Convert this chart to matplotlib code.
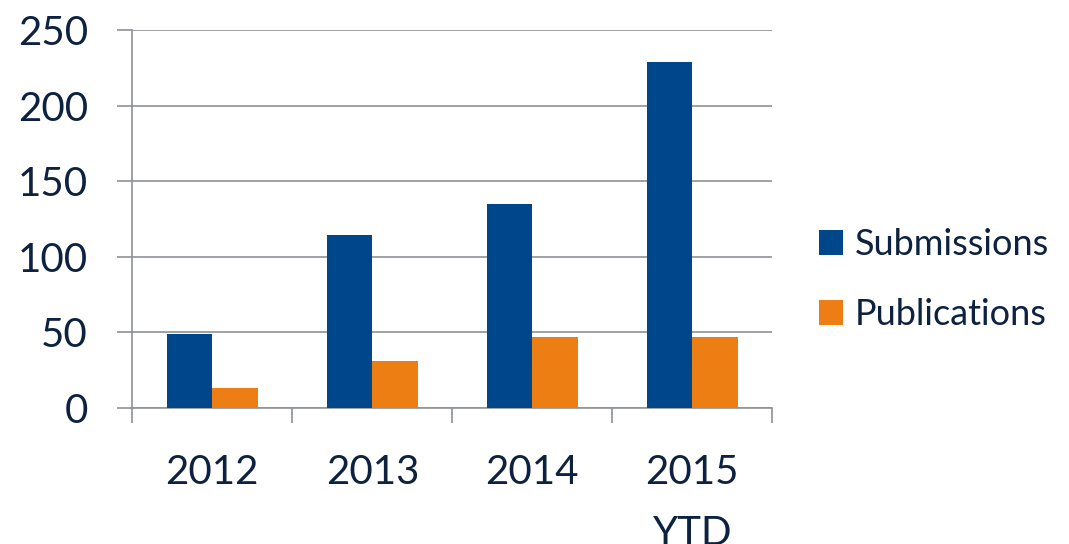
import numpy as np
import matplotlib.pyplot as plt

years = ['2012', '2013', '2014', '2015\nYTD']
submissions = [49, 114, 135, 229]
publications = [13, 31, 47, 47]

blue = '#00468B'
orange = '#EC7E14'
grey = '#8E9196'
txt = '#0D2240'

plt.rcParams['font.family'] = ['Lato', 'DejaVu Sans']

fig = plt.figure(figsize=(10.69, 5.44), dpi=100)
ax = fig.add_axes([0.1238, 0.2506, 0.5987, 0.6943])

x = np.arange(len(years))
w = 0.284
ax.bar(x - w/2, submissions, w, color=blue, label='Submissions', zorder=3)
ax.bar(x + w/2, publications, w, color=orange, label='Publications', zorder=3)

ax.set_xlim(-0.5, len(years) - 0.5)
ax.set_ylim(0, 250)
ax.set_yticks(range(0, 251, 50))
ax.yaxis.grid(True, color=grey, linewidth=1.2)
ax.set_axisbelow(True)

# labels under the groups, ticks on the group boundaries
ax.set_xticks(x)
ax.set_xticklabels(years, fontsize=29, color=txt, linespacing=1.8)
ax.set_xticks(np.arange(-0.5, len(years)), minor=True)
ax.tick_params(axis='x', which='major', length=0, pad=33)
ax.tick_params(axis='x', which='minor', length=11, width=1.2, color=grey)
ax.tick_params(axis='y', length=11, width=1.2, color=grey, labelsize=29,
               labelcolor=txt, pad=21)

for s in ['top', 'right']:
    ax.spines[s].set_visible(False)
for s in ['left', 'bottom']:
    ax.spines[s].set_color(grey)
    ax.spines[s].set_linewidth(1.2)

fig.legend(loc='center left', bbox_to_anchor=(0.766, 0.486), frameon=False,
           borderpad=0, borderaxespad=0, fontsize=26,
           handlelength=0.665, handleheight=0.665, handletextpad=0.33,
           labelspacing=1.02, labelcolor=txt)

fig.savefig('out.png', dpi=100)
